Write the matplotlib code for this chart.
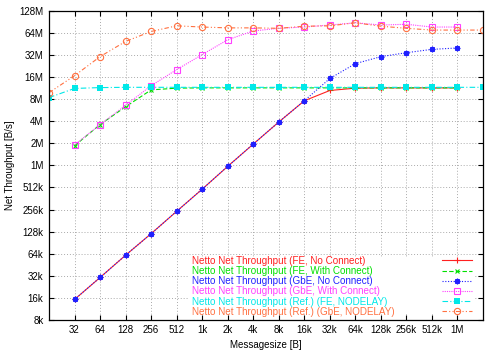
import matplotlib
matplotlib.use('Agg')
import matplotlib.pyplot as plt
from matplotlib.patches import Rectangle
from matplotlib.ticker import FixedLocator, FixedFormatter, NullLocator

plt.rcParams['font.family'] = ['Liberation Sans', 'DejaVu Sans']

# 消息大小 (字节)
sizes = [16, 32, 64, 128, 256, 512, 1024, 2048, 4096, 8192, 16384, 32768,
         65536, 131072, 262144, 524288, 1048576, 2097152]
K = 1024.0
M = 1024.0 * 1024.0

# 各系列吞吐量 (B/s), 从32开始到1M
fe_noconn = [15.2*K, 30.3*K, 61*K, 120*K, 242*K, 485*K, 0.97*M, 1.95*M, 3.9*M,
             7.6*M, 10.5*M, 11.3*M, 11.4*M, 11.4*M, 11.4*M, 11.4*M]
fe_conn = [1.85*M, 3.6*M, 6.3*M, 10.7*M, 11.3*M, 11.4*M, 11.4*M, 11.4*M, 11.4*M,
           11.4*M, 11.4*M, 11.4*M, 11.4*M, 11.4*M, 11.4*M, 11.4*M]
gbe_noconn = [15.2*K, 30.3*K, 61*K, 120*K, 242*K, 485*K, 0.97*M, 1.95*M, 3.9*M,
              7.6*M, 15.3*M, 24.4*M, 30.4*M, 34.4*M, 38.2*M, 39.9*M]
gbe_conn = [1.9*M, 3.6*M, 6.6*M, 12.2*M, 20.2*M, 32.4*M, 51.7*M, 68*M, 74*M,
            77*M, 82*M, 88*M, 82*M, 84*M, 77*M, 77*M]
# 参考值, 从16到2M
ref_fe = [8.4*M, 11.2*M, 11.5*M, 11.6*M, 11.6*M, 11.6*M, 11.6*M, 11.6*M, 11.6*M,
          11.6*M, 11.6*M, 11.6*M, 11.6*M, 11.6*M, 11.6*M, 11.6*M, 11.6*M, 11.6*M]
ref_gbe = [9.8*M, 16.7*M, 30.4*M, 49*M, 67*M, 80*M, 77*M, 75*M, 75*M, 74*M,
           79*M, 80*M, 88*M, 79*M, 74*M, 70*M, 70*M, 70*M]

labels = ['Netto Net Throughput (FE, No Connect)',
          'Netto Net Throughput (FE, With Connect)',
          'Netto Net Throughput (GbE, No Connect)',
          'Netto Net Throughput (GbE, With Connect)',
          'Netto Net Throughput (Ref.) (FE, NODELAY)',
          'Netto Net Throughput (Ref.) (GbE, NODELAY)']

xtick_vals = [2 ** i for i in range(5, 21)]
xtick_lbl = ['32', '64', '128', '256', '512', '1k', '2k', '4k', '8k', '16k',
             '32k', '64k', '128k', '256k', '512k', '1M']
ytick_vals = [2 ** i for i in range(13, 28)]
ytick_lbl = ['8k', '16k', '32k', '64k', '128k', '256k', '512k', '1M', '2M',
             '4M', '8M', '16M', '32M', '64M', '128M']

fig = plt.figure(figsize=(5, 3.5), dpi=100)
ax = fig.add_axes([0.098, 0.086, 0.868, 0.883])

s = sizes[1:17]
h = []
h += ax.plot(s, fe_noconn, color='#ff2020', lw=0.8, ls='-', marker='+', ms=4, mew=0.8)
h += ax.plot(s, fe_conn, color='#00e000', lw=0.8, ls=(0, (4, 2)), marker='x', ms=3.5, mew=0.8)
h += ax.plot(s, gbe_noconn, color='#2020ff', lw=0.8, ls=(0, (1, 1.5)), marker=(8, 2, 0), ms=4, mew=0.9)
h += ax.plot(s, gbe_conn, color='#ff40ff', lw=0.8, ls=(0, (1, 1)), marker='s', ms=4.5, mfc='none', mew=0.8)
h += ax.plot(sizes, ref_fe, color='#00e8e8', lw=0.8, ls=(0, (5, 2, 1, 2)), marker='s', ms=4, mew=0)
h += ax.plot(sizes, ref_gbe, color='#ff7040', lw=0.8, ls=(0, (4, 2, 1, 2, 1, 2)), marker='o', ms=4.5, mfc='none', mew=0.8)

ax.set_xscale('log', base=2)
ax.set_yscale('log', base=2)
ax.set_xlim(16, 2 ** 21)
ax.set_ylim(2 ** 13, 2 ** 27)
ax.xaxis.set_major_locator(FixedLocator(xtick_vals))
ax.xaxis.set_major_formatter(FixedFormatter(xtick_lbl))
ax.yaxis.set_major_locator(FixedLocator(ytick_vals))
ax.yaxis.set_major_formatter(FixedFormatter(ytick_lbl))
ax.xaxis.set_minor_locator(NullLocator())
ax.yaxis.set_minor_locator(NullLocator())
ax.tick_params(direction='in', top=True, right=True, labelsize=7, length=3.5, width=0.8, pad=4)
ax.grid(True, color='#aaaaaa', ls=(0, (1, 2)), lw=0.7)
for sp in ax.spines.values():
    sp.set_linewidth(0.9)

ax.set_xlabel('Messagesize [B]', fontsize=7, labelpad=3)
ax.set_ylabel('Net Throughput [B/s]', fontsize=7, labelpad=3)

# 图例背景 (盖住网格线)
ax.add_patch(Rectangle((0.322, 0.018), 0.66, 0.186, transform=ax.transAxes,
                       fc='white', ec='none', zorder=1.7))

# 图例: 文字在左, 线条样例在右
leg1 = ax.legend(h, labels, loc='lower left', bbox_to_anchor=(0.33, 0.01),
                 frameon=False, fontsize=7.1, handlelength=0, handletextpad=0,
                 labelspacing=0.02, borderaxespad=0, borderpad=0,
                 labelcolor='linecolor')
for ln in leg1.legend_handles:
    ln.set_visible(False)
ax.add_artist(leg1)
ax.legend(h, [' '] * 6, loc='lower right', bbox_to_anchor=(0.985, 0.01),
          frameon=False, fontsize=7.1, handlelength=3.0, handletextpad=0.2,
          labelspacing=0.02, borderaxespad=0, borderpad=0)

fig.savefig('out.png', dpi=100)
